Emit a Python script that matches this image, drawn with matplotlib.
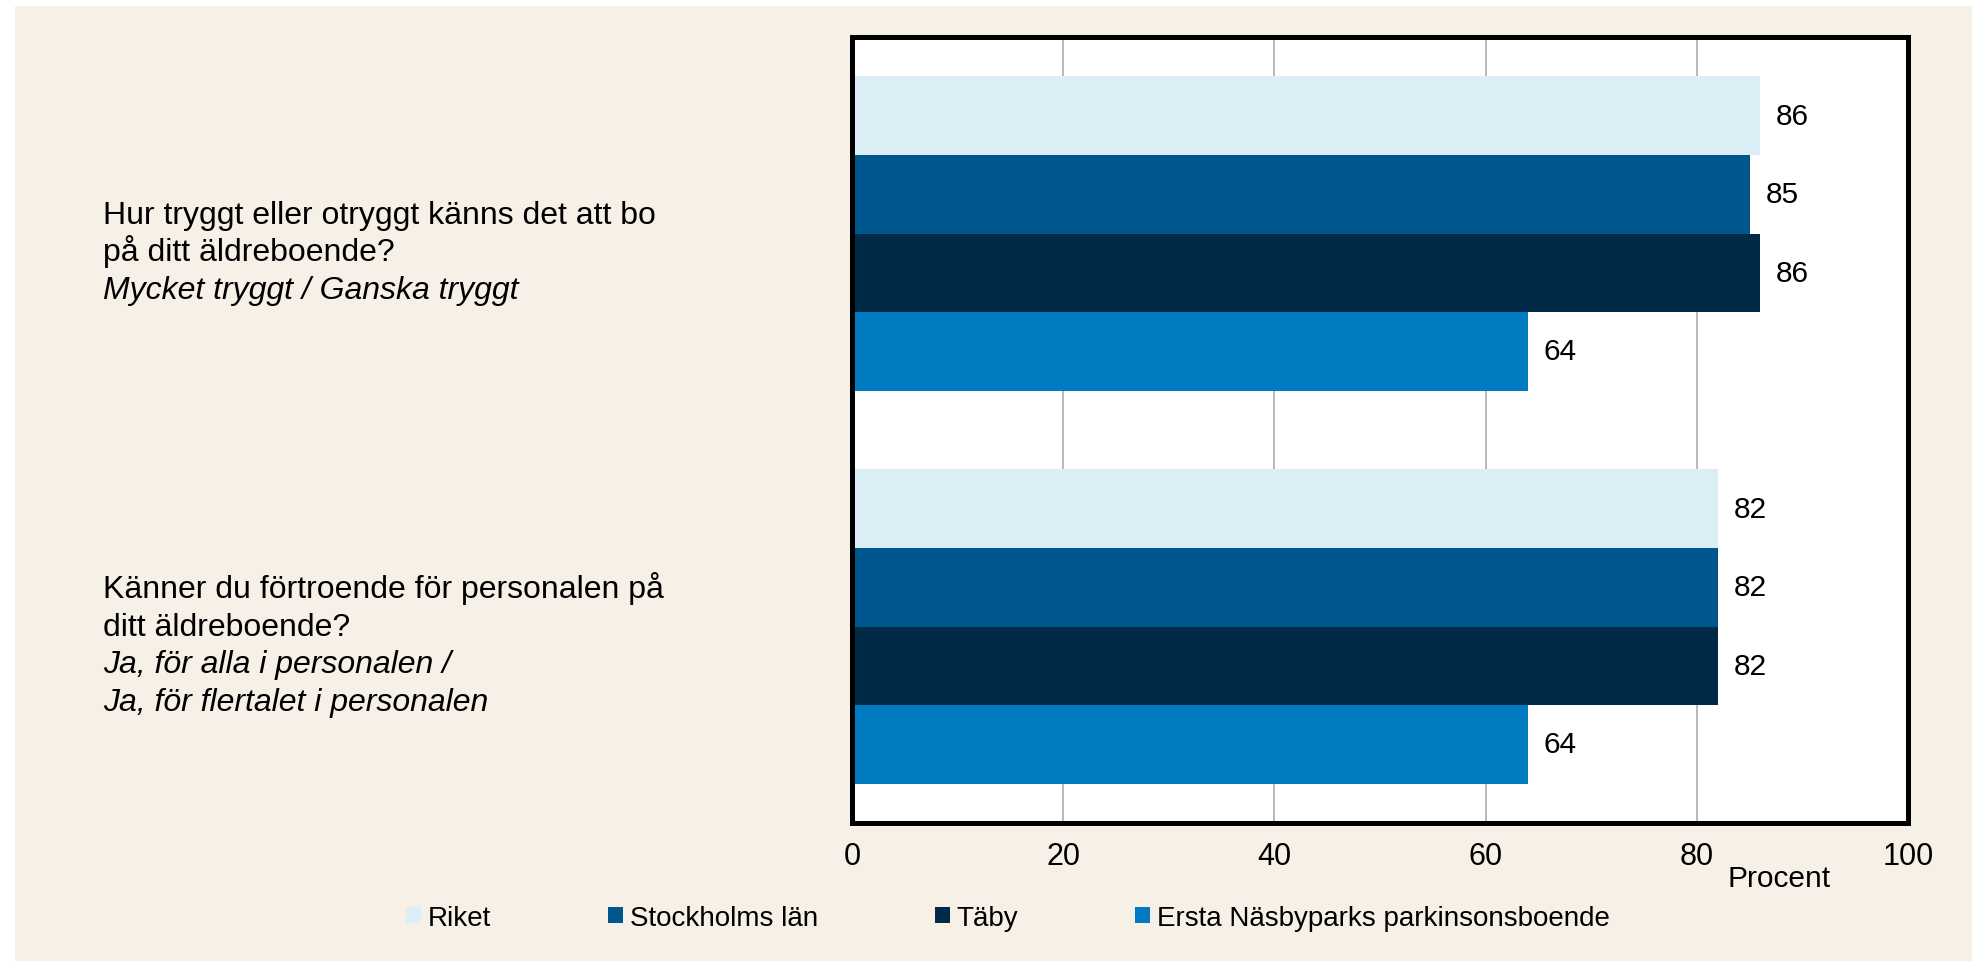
from __future__ import annotations

import matplotlib

matplotlib.use("Agg")
import matplotlib.pyplot as plt
from matplotlib.patches import Patch, Rectangle
from matplotlib.transforms import ScaledTranslation, blended_transform_factory

SERIES = ["Riket", "Stockholms län", "Täby", "Ersta Näsbyparks parkinsonsboende"]
COLORS = ["#dbeef5", "#00578e", "#002a45", "#007ac0"]

# one list per question, same order as SERIES
QUESTION_VALUES = [
    [86, 85, 86, 64],
    [82, 82, 82, 64],
]

# (text, italic) per line
QUESTION_LINES = [
    [
        ("Hur tryggt eller otryggt känns det att bo", False),
        ("på ditt äldreboende?", False),
        ("Mycket tryggt / Ganska tryggt", True),
    ],
    [
        ("Känner du förtroende för personalen på", False),
        ("ditt äldreboende?", False),
        ("Ja, för alla i personalen /", True),
        ("Ja, för flertalet i personalen", True),
    ],
]

X_TICKS = [0, 20, 40, 60, 80, 100]
X_LABEL = "Procent"

BEIGE = "#f7f0e7"
FONT_SIZE = 21.5


def main() -> None:
    plt.rcParams["font.family"] = ["Liberation Sans", "DejaVu Sans"]

    fig = plt.figure(figsize=(19.72, 9.62), dpi=100, facecolor="white")
    fig.patches.append(
        Rectangle(
            (15 / 1972, 0), 1 - 15 / 1972, 1 - 7 / 962,
            transform=fig.transFigure, facecolor=BEIGE, edgecolor="none", zorder=-10,
        )
    )

    ax = fig.add_axes([852 / 1972, 1 - 824 / 962, 1056 / 1972, 786 / 962])
    ax.set_zorder(2)
    ax.set_facecolor("white")

    bar_h = 0.2
    n = len(SERIES)
    for q, values in enumerate(QUESTION_VALUES):
        for s, value in enumerate(values):
            y = q - (n - 1) / 2 * bar_h + s * bar_h
            ax.barh(y, value, height=bar_h, color=COLORS[s], zorder=2, linewidth=0)
            ax.annotate(
                f"{value}", (value, y), xytext=(11.5, 0), textcoords="offset points",
                va="center", ha="left", fontsize=FONT_SIZE, color="black",
            )

    ax.set_xlim(0, 100)
    ax.set_ylim(len(QUESTION_VALUES) - 0.5, -0.5)
    ax.set_xticks(X_TICKS)
    ax.set_yticks([])
    ax.tick_params(axis="x", length=0, pad=13, labelsize=22)
    ax.xaxis.grid(True, color="#a6a6a6", linewidth=1.1, zorder=1)
    ax.set_axisbelow(True)
    for spine in ax.spines.values():
        spine.set_linewidth(3.6)
        spine.set_color("black")
        spine.set_zorder(5)

    ax.text(0.878, -0.07, X_LABEL, transform=ax.transAxes, ha="center", va="center",
            fontsize=FONT_SIZE)

    # question texts on the left, baselines spread around the group centre
    trans = blended_transform_factory(fig.transFigure, ax.transData)
    line_gap = 27.1
    for q, lines in enumerate(QUESTION_LINES):
        mid = (len(lines) - 1) / 2
        for k, (text, italic) in enumerate(lines):
            dy = 19.4 + (k - mid) * line_gap
            offset = ScaledTranslation(0, -dy / 72, fig.dpi_scale_trans)
            fig.text(
                103 / 1972, q, text, transform=trans + offset, ha="left", va="baseline",
                fontsize=23, style="italic" if italic else "normal",
            )

    handles = [Patch(facecolor=c, edgecolor="none") for c in COLORS]
    fig.legend(
        handles, SERIES, loc="center", bbox_to_anchor=(1008 / 1972, 1 - 919 / 962),
        ncol=4, frameon=False, fontsize=20, handlelength=0.54, handleheight=0.54,
        handletextpad=0.25, columnspacing=4.2, borderaxespad=0,
    )

    fig.savefig("out.png", dpi=100, facecolor=fig.get_facecolor())
    plt.close(fig)


if __name__ == "__main__":
    main()
